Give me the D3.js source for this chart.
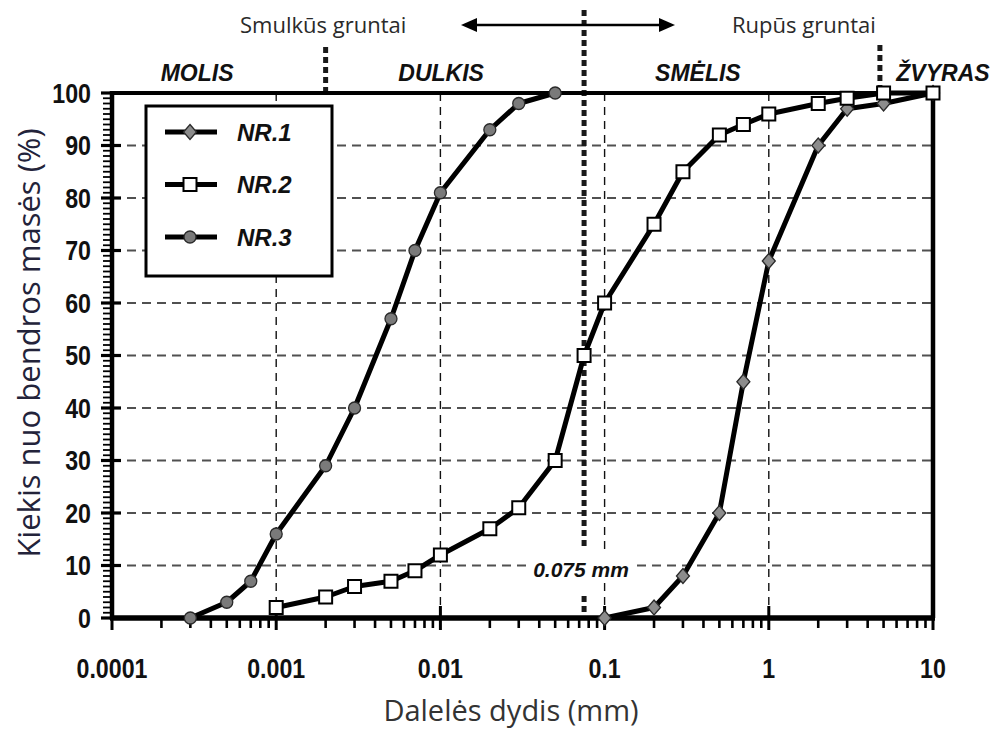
<!DOCTYPE html>
<html>
<head>
<meta charset="utf-8">
<script src="https://cdn.jsdelivr.net/npm/d3@7"></script>
<style>
  html, body { margin: 0; padding: 0; background: #fff; }
  svg { display: block; }
</style>
</head>
<body>
<svg id="chart" width="995" height="733"></svg>
<script>
// Grain-size distribution (sieve / hydrometer) curves
const sizesNR1 = [0.1, 0.2, 0.3, 0.5, 0.7, 1, 2, 3, 5, 10];
const passNR1  = [0, 2, 8, 20, 45, 68, 90, 97, 98, 100];

const sizesNR2 = [0.001, 0.002, 0.003, 0.005, 0.007, 0.01, 0.02, 0.03, 0.05, 0.075, 0.1, 0.2, 0.3, 0.5, 0.7, 1, 2, 3, 5, 10];
const passNR2  = [2, 4, 6, 7, 9, 12, 17, 21, 30, 50, 60, 75, 85, 92, 94, 96, 98, 99, 100, 100];

const sizesNR3 = [0.0003, 0.0005, 0.0007, 0.001, 0.002, 0.003, 0.005, 0.007, 0.01, 0.02, 0.03, 0.05];
const passNR3  = [0, 3, 7, 16, 29, 40, 57, 70, 81, 93, 98, 100];

const seriesNames = ["NR.1", "NR.2", "NR.3"];
const xTickValues = [0.0001, 0.001, 0.01, 0.1, 1, 10];
const xTickLabels = ["0.0001", "0.001", "0.01", "0.1", "1", "10"];
const yTickValues = [0, 10, 20, 30, 40, 50, 60, 70, 80, 90, 100];

// Soil-class boundaries (mm) and zone names
const boundarySizes = [0.002, 0.075, 4.75];
const zoneNames = ["MOLIS", "DULKIS", "SMĖLIS", "ŽVYRAS"];
const zoneCenters = [0.00033, 0.0101, 0.37, 11.5];
const boundaryLabel = "0.075 mm";
const fineLabel = "Smulkūs gruntai";
const coarseLabel = "Rupūs gruntai";
const xTitle = "Dalelės dydis (mm)";
const yTitle = "Kiekis nuo bendros masės (%)";

const svg = d3.select("#chart");
const x = d3.scaleLog().domain([0.0001, 10]).range([112, 933]);
const y = d3.scaleLinear().domain([0, 100]).range([618, 93]);
const [x0, x1] = x.range();
const [y0, y1] = y.range();

const narrow = (sel, k) => sel.attr("transform", function () {
  const xx = +d3.select(this).attr("x") || 0;
  return `translate(${xx * (1 - k)},0) scale(${k},1)`;
});

// Horizontal dashed grid
svg.append("g").selectAll("line")
  .data(yTickValues.filter(v => v > 0 && v < 100))
  .join("line")
  .attr("x1", x0).attr("x2", x1)
  .attr("y1", d => y(d)).attr("y2", d => y(d))
  .attr("stroke", "#505050").attr("stroke-width", 2.2)
  .attr("stroke-dasharray", "9,6");

// Vertical dashed grid at decades
svg.append("g").selectAll("line")
  .data(xTickValues.slice(1, -1))
  .join("line")
  .attr("x1", d => x(d)).attr("x2", d => x(d))
  .attr("y1", y1).attr("y2", y0)
  .attr("stroke", "#111").attr("stroke-width", 1.4)
  .attr("stroke-dasharray", "8,6");

// Boundary dotted lines
const dotted = { stroke: "#1a1a1a", "stroke-width": 5, "stroke-dasharray": "6,4" };
function dottedLine(xv, ya, yb) {
  const l = svg.append("line")
    .attr("x1", x(xv)).attr("x2", x(xv)).attr("y1", ya).attr("y2", yb);
  Object.entries(dotted).forEach(([k, v]) => l.attr(k, v));
}
dottedLine(boundarySizes[0], 47, y1);
dottedLine(boundarySizes[2], 45, y1);
dottedLine(boundarySizes[1], 10, 547);
dottedLine(boundarySizes[1], 596, y0);

// Boundary label on a white patch over the grid
svg.append("rect").attr("x", 527).attr("y", 551).attr("width", 110).attr("height", 32)
  .attr("fill", "#fff");
svg.append("text").attr("x", 581).attr("y", 577)
  .attr("text-anchor", "middle")
  .attr("font-family", "Liberation Sans, Arial, sans-serif")
  .attr("font-weight", "bold").attr("font-style", "italic").attr("font-size", 21)
  .attr("fill", "#111").text(boundaryLabel);

// Axes frame
svg.append("line").attr("x1", x0).attr("x2", x1 + 2).attr("y1", y1).attr("y2", y1)
  .attr("stroke", "#000").attr("stroke-width", 4);
svg.append("line").attr("x1", x1).attr("x2", x1).attr("y1", y1).attr("y2", y0)
  .attr("stroke", "#000").attr("stroke-width", 4.5);

// Y axis with minor ticks
const yMinor = d3.range(0, 101);
svg.append("g").selectAll("line")
  .data(yMinor)
  .join("line")
  .attr("x1", 103).attr("x2", x0)
  .attr("y1", d => y(d)).attr("y2", d => y(d))
  .attr("stroke", "#000").attr("stroke-width", 1.8);
svg.append("g").selectAll("line")
  .data(yTickValues)
  .join("line")
  .attr("x1", 101).attr("x2", 121)
  .attr("y1", d => y(d)).attr("y2", d => y(d))
  .attr("stroke", "#000").attr("stroke-width", 3.2);
svg.append("line").attr("x1", x0).attr("x2", x0).attr("y1", y1 - 2).attr("y2", y0 + 2)
  .attr("stroke", "#000").attr("stroke-width", 4.5);
svg.append("g").selectAll("text")
  .data(yTickValues)
  .join("text")
  .attr("x", 91).attr("y", d => y(d) + 10)
  .attr("text-anchor", "end")
  .attr("font-family", "Liberation Sans, Arial, sans-serif")
  .attr("font-weight", "bold").attr("font-size", 27)
  .attr("fill", "#111")
  .text(d => d)
  .call(narrow, 0.86);

// X axis with log minor ticks
const xMinor = [];
for (let e = -4; e < 1; e++) for (let m = 2; m <= 9; m++) xMinor.push(m * Math.pow(10, e));
svg.append("g").selectAll("line")
  .data(xMinor)
  .join("line")
  .attr("x1", d => x(d)).attr("x2", d => x(d))
  .attr("y1", y0).attr("y2", y0 + 10)
  .attr("stroke", "#000").attr("stroke-width", 2.6);
svg.append("g").selectAll("line")
  .data(xTickValues)
  .join("line")
  .attr("x1", d => x(d)).attr("x2", d => x(d))
  .attr("y1", y0 - 12).attr("y2", y0 + 12)
  .attr("stroke", "#000").attr("stroke-width", 3);
svg.append("line").attr("x1", x0 - 2).attr("x2", x1 + 2).attr("y1", y0).attr("y2", y0)
  .attr("stroke", "#000").attr("stroke-width", 5.5);
svg.append("g").selectAll("text")
  .data(xTickValues)
  .join("text")
  .attr("x", d => x(d)).attr("y", 678)
  .attr("text-anchor", "middle")
  .attr("font-family", "Liberation Sans, Arial, sans-serif")
  .attr("font-weight", "bold").attr("font-size", 27)
  .attr("fill", "#111")
  .text((d, i) => xTickLabels[i])
  .call(narrow, 0.86);

// Curves
const line = d3.line().x(d => x(d[0])).y(d => y(d[1]));
const series = [
  { name: seriesNames[0], pts: d3.zip(sizesNR1, passNR1), shape: "diamond" },
  { name: seriesNames[1], pts: d3.zip(sizesNR2, passNR2), shape: "square" },
  { name: seriesNames[2], pts: d3.zip(sizesNR3, passNR3), shape: "circle" }
];

function marker(g, shape, cx, cy) {
  if (shape === "diamond") {
    g.append("path")
      .attr("d", `M${cx},${cy - 7.5}L${cx + 6.5},${cy}L${cx},${cy + 7.5}L${cx - 6.5},${cy}Z`)
      .attr("fill", "#8c8c8c").attr("stroke", "#2a2a2a").attr("stroke-width", 1.3);
  } else if (shape === "square") {
    g.append("rect").attr("x", cx - 6.5).attr("y", cy - 6.5).attr("width", 13).attr("height", 13)
      .attr("fill", "#fff").attr("stroke", "#000").attr("stroke-width", 2);
  } else {
    g.append("circle").attr("cx", cx).attr("cy", cy).attr("r", 6)
      .attr("fill", "#7a7a7a").attr("stroke", "#2a2a2a").attr("stroke-width", 1.3);
  }
}

series.forEach(s => {
  svg.append("path").datum(s.pts)
    .attr("d", line)
    .attr("fill", "none").attr("stroke", "#000").attr("stroke-width", 5)
    .attr("stroke-linejoin", "round");
});
series.forEach(s => {
  const g = svg.append("g");
  s.pts.forEach(p => marker(g, s.shape, x(p[0]), y(p[1])));
});

// Legend
const lg = svg.append("g");
lg.append("rect").attr("x", 146).attr("y", 106).attr("width", 186).attr("height", 170)
  .attr("fill", "#fff").attr("stroke", "#000").attr("stroke-width", 3);
series.forEach((s, i) => {
  const cy = 132 + i * 52.5;
  lg.append("line").attr("x1", 165).attr("x2", 217).attr("y1", cy).attr("y2", cy)
    .attr("stroke", "#000").attr("stroke-width", 5);
  marker(lg, s.shape, 190, cy);
  lg.append("text").attr("x", 237).attr("y", cy + 8.5)
    .attr("font-family", "Liberation Sans, Arial, sans-serif")
    .attr("font-weight", "bold").attr("font-style", "italic").attr("font-size", 24)
    .attr("fill", "#111")
    .text(s.name);
});

// Zone names
svg.append("g").selectAll("text")
  .data(zoneNames)
  .join("text")
  .attr("x", (d, i) => x(zoneCenters[i])).attr("y", 81)
  .attr("text-anchor", "middle")
  .attr("font-family", "Liberation Sans, Arial, sans-serif")
  .attr("font-weight", "bold").attr("font-style", "italic").attr("font-size", 23)
  .attr("fill", "#111")
  .text(d => d);

// Fine / coarse arrow
const ay = 25;
svg.append("line").attr("x1", 472).attr("x2", 662).attr("y1", ay).attr("y2", ay)
  .attr("stroke", "#000").attr("stroke-width", 2.5);
svg.append("path").attr("d", `M461,${ay}L477,${ay - 7}L477,${ay + 7}Z`).attr("fill", "#000");
svg.append("path").attr("d", `M675,${ay}L659,${ay - 7}L659,${ay + 7}Z`).attr("fill", "#000");
svg.append("text").attr("x", 240).attr("y", 33)
  .attr("font-family", "'Open Sans', Lato, sans-serif").attr("font-size", 22)
  .attr("fill", "#2a2a2a").text(fineLabel);
svg.append("text").attr("x", 732).attr("y", 33)
  .attr("font-family", "'Open Sans', Lato, sans-serif").attr("font-size", 22)
  .attr("fill", "#2a2a2a").text(coarseLabel);

// Axis titles
svg.append("text").attr("x", 511).attr("y", 721)
  .attr("text-anchor", "middle")
  .attr("font-family", "'Open Sans', Lato, sans-serif").attr("font-size", 29)
  .attr("fill", "#333").text(xTitle);
svg.append("text")
  .attr("transform", "translate(40,343) rotate(-90)")
  .attr("text-anchor", "middle")
  .attr("font-family", "'Open Sans', Lato, sans-serif").attr("font-size", 31)
  .attr("fill", "#23233a").text(yTitle);
</script>
</body>
</html>
